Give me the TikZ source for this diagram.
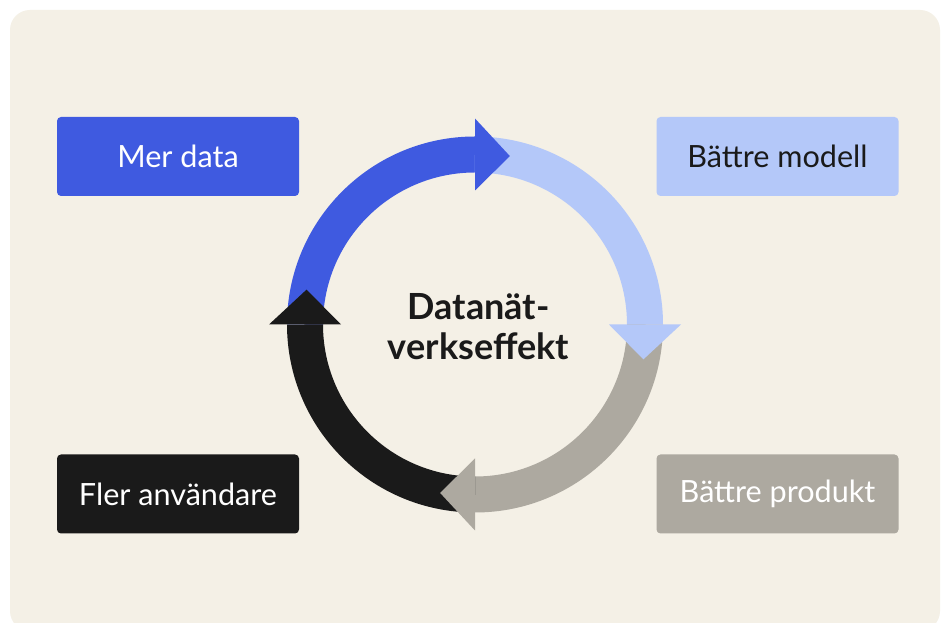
\documentclass[tikz,border=0pt]{standalone}
\usepackage{fontspec}
\setmainfont{Lato}
\definecolor{bgc}{HTML}{F4F0E6}
\definecolor{cblue}{HTML}{3F5AE0}
\definecolor{clight}{HTML}{B4C8F9}
\definecolor{cgrey}{HTML}{ADA9A0}
\definecolor{cblack}{HTML}{1A1A1A}
\begin{document}
\begin{tikzpicture}[x=1pt,y=1pt,
  box/.style={rounded corners=4pt, minimum width=242pt, minimum height=79pt,
    inner sep=0pt, font=\fontsize{30.6}{36}\selectfont},
  band/.style={line width=36pt},
  center/.style={align=center, font=\fontsize{36}{40}\selectfont\bfseries, text=cblack}]
\useasboundingbox (0,0) rectangle (946,623);
\clip (0,0) rectangle (946,623);
\fill[white] (0,0) rectangle (946,623);
\fill[bgc, rounded corners=20pt] (10,-8) rectangle (940,613);
% boxes
\node[box, fill=cblue, text=white] (mer) at (178,466.5) {Mer data};
\node[box, fill=clight, text=cblack] (modell) at (777.5,466.5) {Bättre modell};
\node[box, fill=cblack, text=white] (fler) at (178,129) {Fler användare};
\node[box, fill=cgrey, text=white] (produkt) at (777.5,129) {Bättre produkt};
% cycle
\coordinate (C) at (475,298.5);
\begin{scope}[shift={(C)}]
  \draw[band, cblue]  (180:170) arc (180:90:170);
  \draw[band, clight] (90:170) arc (90:0:170);
  \draw[band, cgrey]  (0:170) arc (0:-90:170);
  \draw[band, cblack] (-90:170) arc (-90:-180:170);
  \fill[cblue]  (90:134) -- (90:206) -- (78.3:172) -- cycle;
  \fill[clight] (0:134) -- (0:206) -- (-11.7:172) -- cycle;
  \fill[cgrey]  (-90:134) -- (-90:206) -- (-101.7:172) -- cycle;
  \fill[cblack] (180:134) -- (180:206) -- (168.3:172) -- cycle;
\end{scope}
\node[center] (title) at (478.5,296) {Datanät-\\verkseffekt};
\end{tikzpicture}
\end{document}
